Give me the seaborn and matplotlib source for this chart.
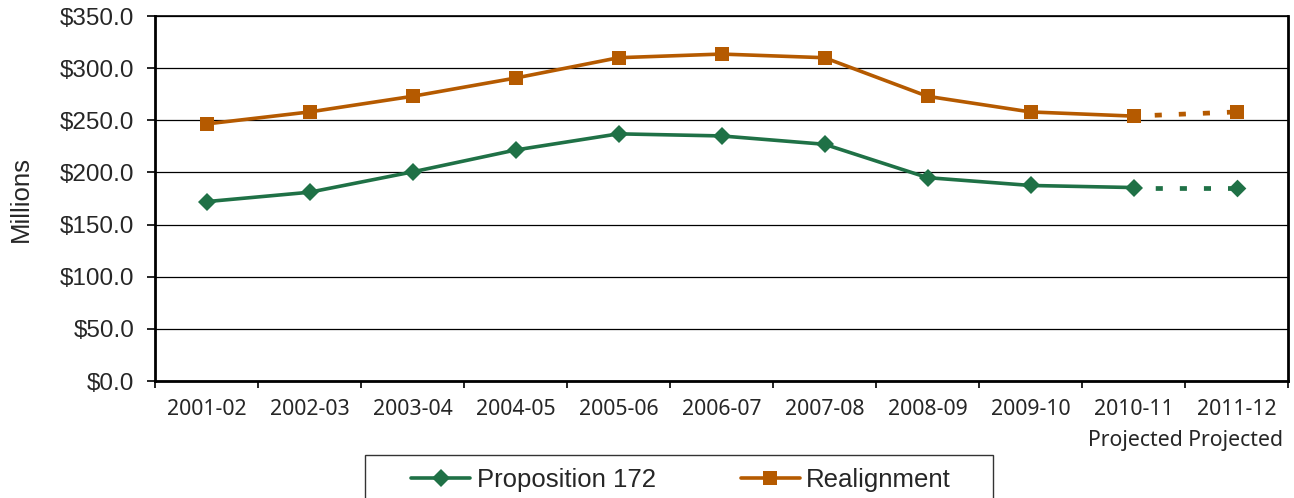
import numpy as np
import pandas as pd
import matplotlib
matplotlib.use("Agg")
import matplotlib.pyplot as plt
from matplotlib.patches import Rectangle
import seaborn as sns

# Fiscal years and funding (in millions of dollars)
years = ["2001-02", "2002-03", "2003-04", "2004-05", "2005-06", "2006-07",
         "2007-08", "2008-09", "2009-10", "2010-11", "2011-12"]
prop172 = [172.0, 181.0, 200.5, 221.5, 237.0, 235.0, 227.0, 195.0, 187.5, 185.5, 185.5]
realignment = [246.5, 258.0, 273.0, 290.5, 310.0, 313.5, 310.0, 273.0, 258.0, 254.0, 258.0]
n_actual = 10  # years through 2010-11 are actual, 2011-12 is projected

series_names = ["Proposition 172", "Realignment"]
series_values = [prop172, realignment]
colors = {"Proposition 172": "#1f7146", "Realignment": "#b55a00"}
markers = {"Proposition 172": "D", "Realignment": "s"}
msizes = {"Proposition 172": 9.0, "Realignment": 10.5}

sns.set_theme(style="white")
plt.rcParams["font.family"] = ["Liberation Sans", "DejaVu Sans"]

rows = []
for name, vals in zip(series_names, series_values):
    for i, (yr, v) in enumerate(zip(years, vals)):
        rows.append({"pos": i, "Year": yr, "Series": name, "Value": v,
                     "Projected": i >= n_actual})
df = pd.DataFrame(rows)

fig = plt.figure(figsize=(12.94, 4.98), dpi=100)
ax = fig.add_axes([155 / 1294, 1 - 381 / 498, (1288 - 155) / 1294, (381 - 16) / 498])

for name in series_names:
    d = df[df["Series"] == name]
    actual = d[~d["Projected"]]
    proj = d[d["pos"] >= n_actual - 1]
    sns.lineplot(data=actual, x="pos", y="Value", ax=ax, color=colors[name],
                 lw=2.6, marker=markers[name], markersize=msizes[name],
                 markeredgewidth=0, label=name, sort=False)
    sns.lineplot(data=proj, x="pos", y="Value", ax=ax, color=colors[name],
                 lw=3.4, linestyle=(0.6, (1.5, 3.6)), sort=False, legend=False)
    last = d[d["Projected"]]
    sns.scatterplot(data=last, x="pos", y="Value", ax=ax, color=colors[name],
                    marker=markers[name], s=msizes[name] ** 2, linewidth=0,
                    legend=False, zorder=5)

ax.set_xlim(-0.5, len(years) - 0.5)
ax.set_ylim(0, 350)
ax.set_yticks(np.arange(0, 351, 50))
ax.set_yticklabels([f"${v:.1f}" for v in np.arange(0, 351, 50)], fontsize=17.5)
ax.grid(axis="y", color="black", lw=0.9)
ax.set_axisbelow(True)

# category boundaries as major ticks, year labels on the centres
ax.set_xticks(np.arange(-0.5, len(years), 1.0))
ax.set_xticklabels([])
ax.set_xticks(np.arange(len(years)), minor=True)
ax.set_xticklabels(years, minor=True, fontsize=15.3, family=["Noto Sans", "DejaVu Sans"])
ax.tick_params(axis="x", which="major", direction="out", length=5, width=1.2,
               color="black", bottom=True)
ax.tick_params(axis="x", which="minor", length=0, pad=13)
ax.tick_params(axis="y", which="major", direction="out", length=6, width=1.2,
               color="black", left=True, pad=9)
ax.text(len(years) - 1.5, -0.135, "Projected Projected", transform=ax.get_xaxis_transform(),
        ha="center", va="top", fontsize=15.3, family=["Noto Sans", "DejaVu Sans"])

ax.set_xlabel("")
ax.set_ylabel("Millions", fontsize=18.5)
ax.yaxis.set_label_coords(-0.108, 0.5)

for side in ["left", "bottom", "right"]:
    ax.spines[side].set_visible(True)
    ax.spines[side].set_color("black")
    ax.spines[side].set_linewidth(2.0)
ax.spines["top"].set_visible(True)
ax.spines["top"].set_color("black")
ax.spines["top"].set_linewidth(1.2)

# legend entries, with a wider box drawn around them below the axis
leg = ax.legend(loc="center", bbox_to_anchor=(681 / 1294, 1 - 480 / 498),
                bbox_transform=fig.transFigure, ncol=2, fontsize=18.5, frameon=False,
                handlelength=2.3, handletextpad=0.25, columnspacing=3.3,
                borderpad=0, borderaxespad=0)
fig.patches.append(Rectangle((365 / 1294, -0.05), (993 - 365) / 1294, 0.05 + 1 - 455 / 498,
                             transform=fig.transFigure, figure=fig, fill=False,
                             edgecolor="#333333", lw=1.0))

fig.savefig("out.png", dpi=100)
